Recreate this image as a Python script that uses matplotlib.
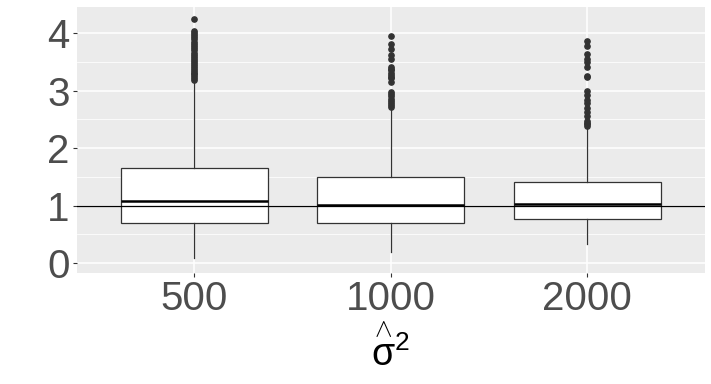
import matplotlib
matplotlib.use('Agg')
import matplotlib.pyplot as plt
from matplotlib.ticker import MultipleLocator

# data
groups = ['500', '1000', '2000']
q1 = [0.70, 0.70, 0.77]
med = [1.08, 1.01, 1.03]
q3 = [1.65, 1.50, 1.41]
whis_lo = [0.09, 0.19, 0.33]
whis_hi = [3.15, 2.66, 2.36]
outliers_500 = [4.25, 4.03, 4.00, 3.97, 3.93, 3.89, 3.85, 3.81, 3.77, 3.73, 3.70,
                3.65, 3.62, 3.59, 3.55, 3.52, 3.48, 3.45, 3.40, 3.37, 3.34, 3.31,
                3.28, 3.25, 3.22, 3.19]
outliers_1000 = [3.94, 3.81, 3.72, 3.62, 3.54, 3.41, 3.38, 3.36, 3.30, 3.27, 3.24,
                 3.22, 3.15, 2.98, 2.94, 2.90, 2.86, 2.82, 2.78, 2.74, 2.71]
outliers_2000 = [3.86, 3.78, 3.64, 3.55, 3.49, 3.40, 3.25, 3.23, 2.99, 2.92, 2.83,
                 2.78, 2.70, 2.62, 2.55, 2.47, 2.44, 2.41, 2.38]
outliers = [outliers_500, outliers_1000, outliers_2000]
ref_line = 1.0

plt.rcParams['font.family'] = ['Liberation Sans', 'DejaVu Sans']
plt.rcParams['mathtext.fontset'] = 'custom'
plt.rcParams['mathtext.rm'] = 'Liberation Sans'
plt.rcParams['mathtext.it'] = 'Liberation Sans'

fig = plt.figure(figsize=(7.11, 3.84), dpi=100)
ax = fig.add_axes([0.1078, 0.289, 0.8838, 0.6927])
ax.set_facecolor('#EBEBEB')

stats = []
for i, g in enumerate(groups):
    stats.append(dict(label=g, q1=q1[i], med=med[i], q3=q3[i],
                      whislo=whis_lo[i], whishi=whis_hi[i], fliers=outliers[i]))

positions = list(range(1, len(groups) + 1))
ax.bxp(stats, positions=positions, widths=0.75, patch_artist=True,
       boxprops=dict(facecolor='white', edgecolor='#333333', linewidth=0.9),
       medianprops=dict(color='black', linewidth=1.8),
       whiskerprops=dict(color='#333333', linewidth=0.9),
       capprops=dict(linewidth=0),
       flierprops=dict(marker='o', markersize=3.8, markerfacecolor='#333333',
                       markeredgecolor='#333333', linestyle='none'),
       zorder=3)

ax.axhline(ref_line, color='black', linewidth=0.9, zorder=4)

ax.set_xlim(0.4, 3.6)
ax.set_ylim(-0.17, 4.45)
ax.yaxis.set_major_locator(MultipleLocator(1))
ax.yaxis.set_minor_locator(MultipleLocator(0.5))
ax.set_xticks(positions)
ax.set_xticklabels(groups)

ax.grid(True, which='major', color='white', linewidth=1.1, zorder=0)
ax.grid(True, which='minor', axis='y', color='white', linewidth=0.55, zorder=0)
ax.set_axisbelow(True)
for s in ax.spines.values():
    s.set_visible(False)

ax.tick_params(axis='both', which='major', labelsize=29, labelcolor='#4D4D4D',
               color='#333333', length=3, width=0.8, pad=2)
ax.tick_params(axis='y', which='minor', length=0)

ax.set_xlabel(r'$\overset{\wedge}{\mathrm{\sigma}}^{2}$', fontsize=27,
              color='black', labelpad=6)

fig.savefig('out.png', dpi=100)
